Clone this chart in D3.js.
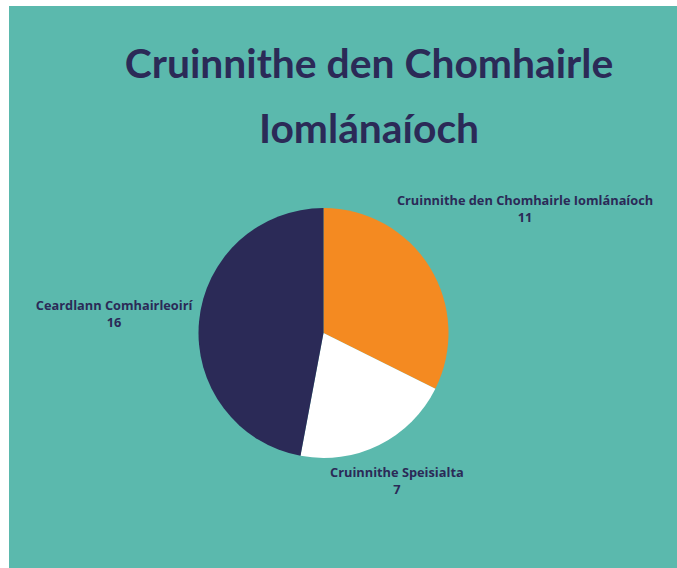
<!DOCTYPE html>
<html>
<head>
<meta charset="utf-8">
<script src="https://cdn.jsdelivr.net/npm/d3@7"></script>
<style>
  html, body { margin: 0; padding: 0; background: #ffffff; }
  svg { display: block; }
</style>
</head>
<body>
<svg id="chart" width="677" height="568"></svg>
<script>
// ---- data ----
const categories = ["Cruinnithe den Chomhairle Iomlánaíoch", "Cruinnithe Speisialta", "Ceardlann Comhairleoirí"];
const values = [11, 7, 16];
const colors = ["#F48A21", "#FFFFFF", "#2B2A57"];
const titleLines = ["Cruinnithe den Chomhairle", "Iomlánaíoch"];

// ---- layout ----
const W = 677, H = 568;
const svg = d3.select("#chart");
const ink = "#2B2A57";

svg.append("rect").attr("x", 9).attr("y", 6).attr("width", W - 9).attr("height", H - 6).attr("fill", "#5BB9AD");

// title
svg.append("g").selectAll("text").data(titleLines).join("text")
  .attr("x", 369)
  .attr("y", (d, i) => 78 + i * 65)
  .attr("text-anchor", "middle")
  .attr("font-family", "Lato, sans-serif")
  .attr("font-weight", 700)
  .attr("font-size", 40.8)
  .attr("fill", ink)
  .text(d => d);

// pie
const cx = 323.5, cy = 333, R = 125;
const pie = d3.pie().sort(null).value(d => d.v);
const arcs = pie(values.map((v, i) => ({ v, i })));
const arc = d3.arc().innerRadius(0).outerRadius(R);
const g = svg.append("g").attr("transform", `translate(${cx},${cy})`);
g.selectAll("path").data(arcs).join("path")
  .attr("d", arc)
  .attr("fill", d => colors[d.data.i]);

// labels placed radially, so that the label box sits just outside the pie
const gap = 5, lineH = 17;
const labels = g.selectAll("g.lab").data(arcs).join("g").attr("class", "lab");
labels.each(function(d) {
  const sel = d3.select(this);
  const t = sel.append("text")
    .attr("text-anchor", "middle")
    .attr("font-family", "'Open Sans', sans-serif")
    .attr("font-weight", 700)
    .attr("font-size", 12.8)
    .attr("fill", ink);
  t.append("tspan").attr("x", 0).attr("y", 0).text(categories[d.data.i]);
  t.append("tspan").attr("x", 0).attr("y", lineH).text(values[d.data.i]);
  const bb = this.getBBox();
  const mid = (d.startAngle + d.endAngle) / 2;
  const ux = Math.sin(mid), uy = -Math.cos(mid);
  const bcx = bb.x + bb.width / 2, bcy = bb.y + bb.height / 2;
  const nearest = (tt) => {
    const x0 = ux * tt - bb.width / 2, x1 = ux * tt + bb.width / 2;
    const y0 = uy * tt - bb.height / 2, y1 = uy * tt + bb.height / 2;
    const nx = Math.max(x0, Math.min(0, x1)), ny = Math.max(y0, Math.min(0, y1));
    return Math.hypot(nx, ny);
  };
  let lo = 0, hi = 600;
  for (let k = 0; k < 60; k++) {
    const m = (lo + hi) / 2;
    if (nearest(m) < R + gap) lo = m; else hi = m;
  }
  const tt = hi;
  sel.attr("transform", `translate(${ux * tt - bcx},${uy * tt - bcy})`);
});
</script>
</body>
</html>
